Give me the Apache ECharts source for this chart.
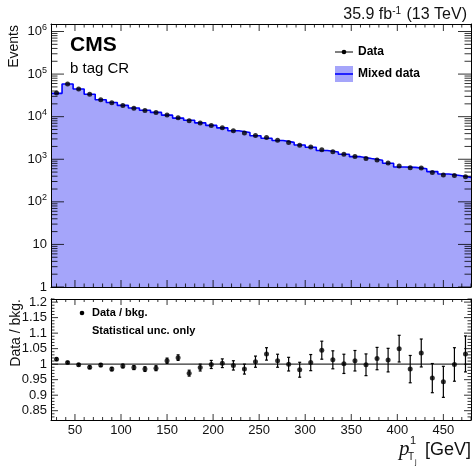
<!DOCTYPE html>
<html>
<head>
<meta charset="utf-8">
<script src="https://cdn.jsdelivr.net/npm/echarts@6/dist/echarts.min.js"></script>
<style>
    html, body { margin: 0; padding: 0; background: #fff; }
    #chart { width: 473px; height: 471px; }
</style>
</head>
<body>
<div id="chart"></div>
<script>
    // bin centres in GeV, bins are 12 GeV wide
    var binCenters = [30, 42, 54, 66, 78, 90, 102, 114, 126, 138, 150, 162, 174, 186, 198, 210, 222, 234, 246,
        258, 270, 282, 294, 306, 318, 330, 342, 354, 366, 378, 390, 402, 414, 426, 438, 450, 462, 474];
    var binWidth = 12;

    var mixedCounts = [35300, 58400, 44700, 33700, 25050, 21500, 18400, 15980, 14130, 12610, 10850, 9260, 8220,
        7150, 6230, 5450, 4660, 4230, 3570, 3120, 2750, 2490, 2160, 1920, 1600, 1480, 1315, 1150, 1040, 947,
        807, 660, 645, 600, 513, 450, 417, 375];
    var dataCounts = [35900, 58700, 44600, 33400, 24970, 21200, 18300, 15800, 13900, 12450, 10970, 9460, 7980,
        7070, 6220, 5470, 4640, 4160, 3600, 3220, 2780, 2490, 2120, 1930, 1670, 1500, 1315, 1160, 1040, 964,
        818, 693, 634, 622, 490, 424, 417, 387];

    var ratioValues = [1.016, 1.005, 0.998, 0.990, 0.997, 0.984, 0.994, 0.989, 0.984, 0.987, 1.011, 1.021, 0.971,
        0.989, 0.999, 1.003, 0.996, 0.984, 1.008, 1.033, 1.011, 1.000, 0.982, 1.005, 1.045, 1.014, 1.001, 1.011,
        0.998, 1.018, 1.013, 1.050, 0.984, 1.036, 0.955, 0.943, 0.999, 1.033];
    var ratioErrors = [0.004, 0.003, 0.004, 0.0045, 0.005, 0.0055, 0.006, 0.0065, 0.0075, 0.008, 0.0085, 0.009,
        0.0095, 0.011, 0.013, 0.014, 0.015, 0.016, 0.018, 0.020, 0.021, 0.022, 0.024, 0.026, 0.029, 0.029, 0.031,
        0.033, 0.035, 0.036, 0.038, 0.043, 0.044, 0.045, 0.047, 0.050, 0.054, 0.058];

    var xTickLabels = [50, 100, 150, 200, 250, 300, 350, 400, 450];
    var logTickLabels = [1, 10, 100, 1000, 10000, 100000, 1000000];
    var ratioTickLabels = [0.85, 0.9, 0.95, 1, 1.05, 1.1, 1.15, 1.2];

    var FONT = '"Liberation Sans", Arial, Helvetica, sans-serif';
    var FILL = '#a5a5fa';

    var X_MIN = 24, X_MAX = 480;
    var LOG_MIN = 1, LOG_MAX = 1.5e6;
    var R_MIN = 0.82, R_MAX = 1.21;

    // minor tick positions
    var xMinor = [];
    for (var t = 30; t <= 480; t += 10) if (t % 50 !== 0) xMinor.push(t);
    var logMinor = [];
    for (var d = 0; d <= 6; d++) for (var k = 2; k <= 9; k++) {
        var v = k * Math.pow(10, d);
        if (v < LOG_MAX) logMinor.push(v);
    }
    var ratioMinor = [];
    for (var r = 83; r <= 121; r++) if (r % 5 !== 0) ratioMinor.push(r / 100);

    // step outline: left edge of every bin, plus the right edge of the last one
    var stepData = binCenters.map(function (c, i) { return [c - binWidth / 2, mixedCounts[i]]; });
    stepData.push([binCenters[binCenters.length - 1] + binWidth / 2, mixedCounts[mixedCounts.length - 1]]);

    var AXLINE = {color: '#000'};

    function xAx(grid, pos, label) {
        return {
            type: 'value', gridIndex: grid, position: pos, min: X_MIN, max: X_MAX, z: 10,
            axisLine: {show: true, onZero: false, lineStyle: AXLINE},
            axisTick: {show: false},
            axisLabel: label ? {customValues: xTickLabels, color: '#111', fontSize: 13, fontFamily: FONT, margin: 4} : {show: false},
            splitLine: {show: false}
        };
    }
    function yLog(pos, label) {
        return {
            type: 'log', logBase: 10, gridIndex: 0, position: pos, min: LOG_MIN, max: LOG_MAX, z: 10,
            axisLine: {show: true, lineStyle: AXLINE},
            axisTick: {show: false},
            axisLabel: label ? {
                color: '#111', fontFamily: FONT, fontSize: 13, margin: 4, showMaxLabel: false,
                formatter: function (val) {
                    var e = Math.round(Math.log10(val));
                    if (e === 0) return '{b|1}';
                    if (e === 1) return '{b|10}';
                    return '{b|10}{s|' + e + '}';
                },
                rich: {
                    b: {fontSize: 13, fontFamily: FONT, color: '#111'},
                    s: {fontSize: 9, fontFamily: FONT, color: '#111', padding: [0, 0, 8, 0]}
                }
            } : {show: false},
            splitLine: {show: false}
        };
    }
    function yRatio(pos, label) {
        return {
            type: 'value', gridIndex: 1, position: pos, min: R_MIN, max: R_MAX, z: 10,
            axisLine: {show: true, lineStyle: AXLINE},
            axisTick: {show: false},
            axisLabel: label ? {customValues: ratioTickLabels, color: '#111', fontSize: 13, fontFamily: FONT, margin: 4} : {show: false},
            splitLine: {show: false}
        };
    }

    // inward ticks drawn as thin rect symbols sitting on the panel edge
    function tickMarks(ai, side, values, len, edge) {
        var horiz = side === 'bottom' || side === 'top';
        var off = {bottom: [0, -len / 2], top: [0, len / 2], left: [len / 2, 0], right: [-len / 2, 0]}[side];
        return {
            type: 'scatter', xAxisIndex: ai, yAxisIndex: ai, clip: false, z: 5,
            symbol: 'rect', symbolSize: horiz ? [1, len] : [len, 1], symbolOffset: off,
            itemStyle: {color: '#000'},
            data: values.map(function (tv) { return horiz ? [tv, edge] : [edge, tv]; })
        };
    }
    function panelTicks(ai, xMaj, xMin, xLen, yMaj, yMin, yLen, yLo, yHi) {
        return [
            tickMarks(ai, 'bottom', xMaj, xLen, yLo), tickMarks(ai, 'top', xMaj, xLen, yHi),
            tickMarks(ai, 'bottom', xMin, xLen / 2, yLo), tickMarks(ai, 'top', xMin, xLen / 2, yHi),
            tickMarks(ai, 'left', yMaj, yLen, X_MIN), tickMarks(ai, 'right', yMaj, yLen, X_MAX),
            tickMarks(ai, 'left', yMin, yLen / 2, X_MIN), tickMarks(ai, 'right', yMin, yLen / 2, X_MAX)
        ];
    }

    // ticks go first so that nothing later can keep them from being drawn
    var series = panelTicks(0, xTickLabels, xMinor, 7, logTickLabels, logMinor, 13, LOG_MIN, LOG_MAX).concat(
        panelTicks(2, xTickLabels, xMinor, 6, ratioTickLabels, ratioMinor, 7, R_MIN, R_MAX),
        [
            {
                name: 'Mixed data', type: 'line', xAxisIndex: 0, yAxisIndex: 0,
                step: 'end', symbol: 'none', data: stepData,
                lineStyle: {color: '#0000ff', width: 1.6},
                areaStyle: {color: FILL, opacity: 1, origin: 'start'}
            },
            {
                name: 'Data', type: 'scatter', xAxisIndex: 0, yAxisIndex: 0, z: 4,
                symbol: 'circle', symbolSize: 5, itemStyle: {color: '#000'},
                data: binCenters.map(function (c, i) { return [c, dataCounts[i]]; })
            },
            {
                name: 'Unity', type: 'line', xAxisIndex: 2, yAxisIndex: 2, symbol: 'none',
                lineStyle: {color: '#333', width: 1.2},
                data: [[X_MIN, 1], [X_MAX, 1]]
            },
            {
                name: 'Data / bkg.', type: 'scatter', xAxisIndex: 2, yAxisIndex: 2, z: 4,
                symbol: 'circle', symbolSize: 5, itemStyle: {color: '#000'},
                data: binCenters.map(function (c, i) { return [c, ratioValues[i]]; })
            },
            {
                name: 'Ratio errors', type: 'custom', xAxisIndex: 2, yAxisIndex: 2, z: 4,
                encode: {x: 0, y: [1, 2]},
                renderItem: function (params, api) {
                    var lo = api.coord([api.value(0), api.value(1)]);
                    var hi = api.coord([api.value(0), api.value(2)]);
                    var st = {stroke: '#000', lineWidth: 1.2};
                    return {
                        type: 'group', children: [
                            {type: 'line', shape: {x1: lo[0], y1: lo[1], x2: hi[0], y2: hi[1]}, style: st},
                            {type: 'line', shape: {x1: lo[0] - 1.5, y1: lo[1], x2: lo[0] + 1.5, y2: lo[1]}, style: st},
                            {type: 'line', shape: {x1: hi[0] - 1.5, y1: hi[1], x2: hi[0] + 1.5, y2: hi[1]}, style: st}
                        ]
                    };
                },
                data: binCenters.map(function (c, i) {
                    return [c, ratioValues[i] - ratioErrors[i], ratioValues[i] + ratioErrors[i]];
                })
            }
        ]
    );

    var chart = echarts.init(document.getElementById('chart'), null, {renderer: 'canvas'});
    chart.setOption({
        animation: false,
        backgroundColor: '#fff',
        title: {
            text: '35.9 fb{s|-1} (13 TeV)', right: 1, top: 1,
            textStyle: {
                fontFamily: FONT, fontSize: 16, fontWeight: 'normal', color: '#111',
                rich: {s: {fontFamily: FONT, fontSize: 10, color: '#111', padding: [0, 1, 8, 0]}}
            }
        },
        grid: [
            {left: 51, right: 2, top: 24, height: 263},
            {left: 51, right: 2, top: 299, height: 121}
        ],
        xAxis: [xAx(0, 'bottom', false), xAx(0, 'top', false), xAx(1, 'bottom', true), xAx(1, 'top', false)],
        yAxis: [yLog('left', true), yLog('right', false), yRatio('left', true), yRatio('right', false)],
        series: series,
        graphic: [
            {type: 'text', x: 70, y: 45, style: {text: 'CMS', font: 'bold 21px ' + FONT, fill: '#000', verticalAlign: 'middle'}},
            {type: 'text', x: 70, y: 69, style: {text: 'b tag CR', font: '15px ' + FONT, fill: '#000', verticalAlign: 'middle'}},
            {type: 'text', x: 14, y: 25, rotation: Math.PI / 2,
                style: {text: 'Events', font: '14px ' + FONT, fill: '#111', align: 'right', verticalAlign: 'middle'}},
            {type: 'text', x: 16, y: 299, rotation: Math.PI / 2,
                style: {text: 'Data / bkg.', font: '14px ' + FONT, fill: '#111', align: 'right', verticalAlign: 'middle'}},
            // legend, top panel
            {type: 'line', shape: {x1: 335, y1: 52, x2: 353, y2: 52}, style: {stroke: '#000', lineWidth: 1}},
            {type: 'circle', shape: {cx: 344, cy: 52, r: 2.3}, style: {fill: '#000'}},
            {type: 'text', x: 358, y: 52, style: {text: 'Data', font: 'bold 12px ' + FONT, fill: '#000', verticalAlign: 'middle'}},
            {type: 'rect', shape: {x: 335, y: 66, width: 18, height: 16}, style: {fill: FILL}},
            {type: 'line', shape: {x1: 335, y1: 74, x2: 353, y2: 74}, style: {stroke: '#0000ff', lineWidth: 1.6}},
            {type: 'text', x: 358, y: 74, style: {text: 'Mixed data', font: 'bold 12px ' + FONT, fill: '#000', verticalAlign: 'middle'}},
            // legend, ratio panel
            {type: 'circle', shape: {cx: 82, cy: 313, r: 2.3}, style: {fill: '#000'}},
            {type: 'text', x: 92, y: 313, style: {text: 'Data / bkg.', font: 'bold 11px ' + FONT, fill: '#000', verticalAlign: 'middle'}},
            {type: 'text', x: 92, y: 331, style: {text: 'Statistical unc. only', font: 'bold 11px ' + FONT, fill: '#000', verticalAlign: 'middle'}},
            // x axis title
            {type: 'text', x: 399, y: 449, style: {text: 'p', font: 'italic 21px "Liberation Serif", serif', fill: '#111', verticalAlign: 'middle'}},
            {type: 'text', x: 410, y: 441, style: {text: '1', font: '11px ' + FONT, fill: '#111', verticalAlign: 'middle'}},
            {type: 'text', x: 408, y: 457, style: {text: 'T', font: '10px ' + FONT, fill: '#111', verticalAlign: 'middle'}},
            {type: 'text', x: 415, y: 462, style: {text: 'j', font: '7px ' + FONT, fill: '#111', verticalAlign: 'middle'}},
            {type: 'text', x: 471, y: 450, style: {text: '[GeV]', font: '18px ' + FONT, fill: '#111', align: 'right', verticalAlign: 'middle'}}
        ]
    });
</script>
</body>
</html>
